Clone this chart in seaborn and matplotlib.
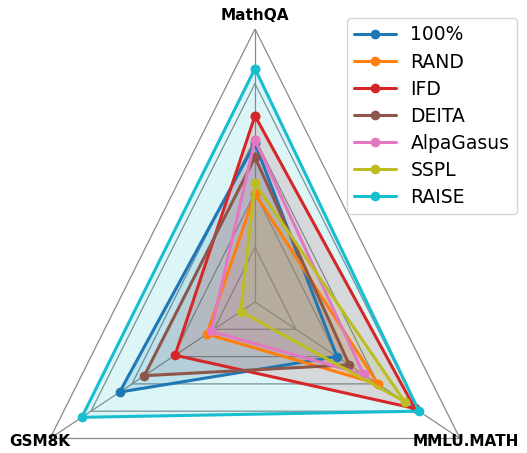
import numpy as np
import pandas as pd
import matplotlib
matplotlib.use("Agg")
import matplotlib.pyplot as plt
from matplotlib.lines import Line2D
import seaborn as sns

# Benchmarks (axes of the radar) and normalised scores per selection method
benchmarks = ["MathQA", "GSM8K", "MMLU.MATH"]
methods = ["100%", "RAND", "IFD", "DEITA", "AlpaGasus", "SSPL", "RAISE"]

score_100 = [0.581, 0.660, 0.400]
score_rand = [0.397, 0.235, 0.600]
score_ifd = [0.682, 0.390, 0.780]
score_deita = [0.530, 0.540, 0.460]
score_alpagasus = [0.594, 0.215, 0.530]
score_sspl = [0.435, 0.070, 0.730]
score_raise = [0.855, 0.845, 0.800]

grid_levels = [0.2, 0.4, 0.6, 0.8, 1.0]

scores = [score_100, score_rand, score_ifd, score_deita,
          score_alpagasus, score_sspl, score_raise]

sns.set_style("white")
plt.rcParams["text.color"] = "black"
palette = sns.color_palette("tab10")
colors = [palette[i] for i in (0, 1, 3, 5, 6, 8, 9)]

n = len(benchmarks)
theta = np.linspace(0, 2 * np.pi, n, endpoint=False)
theta_closed = np.append(theta, theta[0])

fig = plt.figure(figsize=(5.27, 4.53), dpi=100)
ax = fig.add_axes([0.0347, -0.2693, 0.8983, 1.2053], projection="polar")
ax.set_aspect("auto")
ax.set_theta_offset(np.pi / 2)
ax.set_ylim(0, 1)
ax.grid(False)
ax.spines["polar"].set_visible(False)
ax.set_xticks([])
ax.set_yticks([])
ax.patch.set_visible(False)

# Triangular grid and spokes
grid_kw = dict(color="#8a8a8a", lw=0.9, zorder=1)
for lvl in grid_levels:
    ax.plot(theta_closed, [lvl] * (n + 1), **grid_kw)
for t in theta:
    ax.plot([t, t], [0, 1], **grid_kw)

# One closed polygon per method
rows = []
for m, vals in zip(methods, scores):
    closed = list(vals) + [vals[0]]
    for k, (t, v) in enumerate(zip(theta_closed, closed)):
        rows.append({"method": m, "theta": t, "score": v, "order": k})
df = pd.DataFrame(rows)

handles = []
for m, c in zip(methods, colors):
    sub = df[df["method"] == m]
    sns.lineplot(data=sub, x="theta", y="score", sort=False, estimator=None,
                 color=c, lw=2.2, marker="o", markersize=7,
                 markeredgewidth=0, ax=ax, legend=False, zorder=3)
    ax.fill(sub["theta"], sub["score"], color=c, alpha=0.15, zorder=2)
    handles.append(Line2D([0], [0], color=c, lw=2.2, marker="o",
                          markersize=7, markeredgewidth=0, label=m))

ax.set_xlabel("")
ax.set_ylabel("")

# Benchmark names
lab_kw = dict(fontsize=11, fontweight="bold", ha="center", va="center",
              color="black")
fig.text(255 / 527, 1 - 15 / 453, benchmarks[0], **lab_kw)
fig.text(40 / 527, 1 - 442 / 453, benchmarks[1], **lab_kw)
fig.text(466 / 527, 1 - 442 / 453, benchmarks[2], **lab_kw)

leg = fig.legend(handles=handles, loc="upper right",
                 bbox_to_anchor=(517 / 527, 1 - 18 / 453),
                 fontsize=13.5, frameon=True, borderaxespad=0,
                 labelspacing=0.43, handlelength=2.2)
for txt in leg.get_texts():
    txt.set_color("black")

fig.savefig("out.png", dpi=100)
